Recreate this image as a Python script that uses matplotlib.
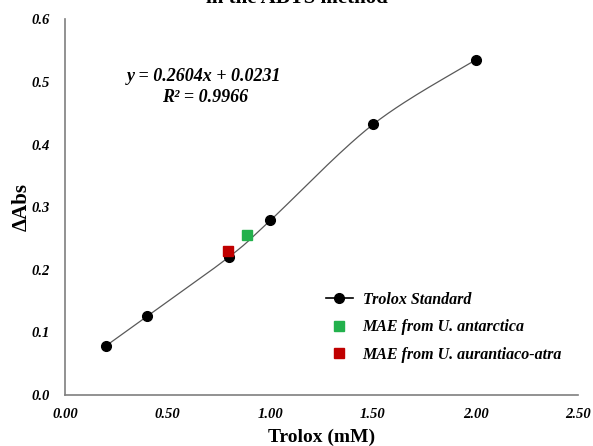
import numpy as np
import matplotlib.pyplot as plt
from matplotlib.lines import Line2D

plt.rcParams['font.family'] = ['Liberation Serif', 'DejaVu Serif']

# Trolox standard curve
trolox_x = [0.2, 0.4, 0.8, 1.0, 1.5, 2.0]
trolox_y = [0.079, 0.126, 0.221, 0.279, 0.432, 0.535]
# extracts
antarctica_x, antarctica_y = [0.885], [0.255]
aurantiaco_x, aurantiaco_y = [0.795], [0.230]

x_ticks = [0.0, 0.5, 1.0, 1.5, 2.0, 2.5]
y_ticks = [0.0, 0.1, 0.2, 0.3, 0.4, 0.5, 0.6]


def smooth(xs, ys, n=30):
    # catmull-rom, like excel's smoothed line
    p = np.column_stack([xs, ys])
    p = np.vstack([p[0], p, p[-1]])
    out = []
    for i in range(1, len(p) - 2):
        p0, p1, p2, p3 = p[i - 1], p[i], p[i + 1], p[i + 2]
        t = np.linspace(0, 1, n)[:, None]
        seg = 0.5 * ((2 * p1) + (-p0 + p2) * t + (2 * p0 - 5 * p1 + 4 * p2 - p3) * t ** 2
                     + (-p0 + 3 * p1 - 3 * p2 + p3) * t ** 3)
        out.append(seg)
    out = np.vstack(out)
    return out[:, 0], out[:, 1]


fig = plt.figure(figsize=(5.93, 4.46), dpi=100)
ax = fig.add_axes([0.110, 0.114, 0.865, 0.843])

sx, sy = smooth(trolox_x, trolox_y)
ax.plot(sx, sy, color='#595959', lw=0.9)
ax.plot(trolox_x, trolox_y, 'o', color='black', ms=7)
ax.plot(antarctica_x, antarctica_y, 's', color='#22b14c', ms=7)
ax.plot(aurantiaco_x, aurantiaco_y, 's', color='#c00000', ms=7)

ax.set_xlim(0, 2.5)
ax.set_ylim(0, 0.6)
ax.set_xticks(x_ticks)
ax.set_xticklabels(['%.2f' % v for v in x_ticks])
ax.set_yticks(y_ticks)
ax.set_yticklabels(['%.1f' % v for v in y_ticks])
ax.tick_params(length=0, labelsize=10.5)
ax.tick_params(axis='y', pad=11)
ax.tick_params(axis='x', pad=9)
for lab in ax.get_xticklabels() + ax.get_yticklabels():
    lab.set_fontweight('bold')
    lab.set_fontstyle('italic')
for s in ['top', 'right']:
    ax.spines[s].set_visible(False)
for s in ['left', 'bottom']:
    ax.spines[s].set_color('#7f7f7f')
    ax.spines[s].set_linewidth(1.2)

fig.text(0.543, 1 - 437 / 446, 'Trolox (mM)', ha='center', va='center',
         fontsize=14, fontweight='bold')
fig.text(22 / 593, 1 - 207 / 446, 'ΔAbs', ha='center', va='center', rotation=90,
         fontsize=15, fontweight='bold')

ax.text(0.27, 0.848, 'y = 0.2604x + 0.0231', transform=ax.transAxes,
        ha='center', va='center', fontsize=13, fontweight='bold', fontstyle='italic')
ax.text(0.272, 0.792, 'R² = 0.9966', transform=ax.transAxes,
        ha='center', va='center', fontsize=13, fontweight='bold', fontstyle='italic')

fig.text(0.5, 0.993, 'in the ABTS method', ha='center', va='baseline', fontsize=15,
         fontweight='bold')

handles = [
    Line2D([], [], color='black', lw=1.2, marker='o', ms=7),
    Line2D([], [], color='#22b14c', lw=0, marker='s', ms=7),
    Line2D([], [], color='#c00000', lw=0, marker='s', ms=7),
]
labels = ['Trolox Standard', 'MAE from U. antarctica', 'MAE from U. aurantiaco-atra']
leg = ax.legend(handles, labels, loc='upper left', bbox_to_anchor=(0.48, 0.313),
                frameon=False, prop={'weight': 'bold', 'style': 'italic', 'size': 11.5},
                labelspacing=0.72, handlelength=1.7, handletextpad=0.6)

fig.savefig('out.png', dpi=100)
